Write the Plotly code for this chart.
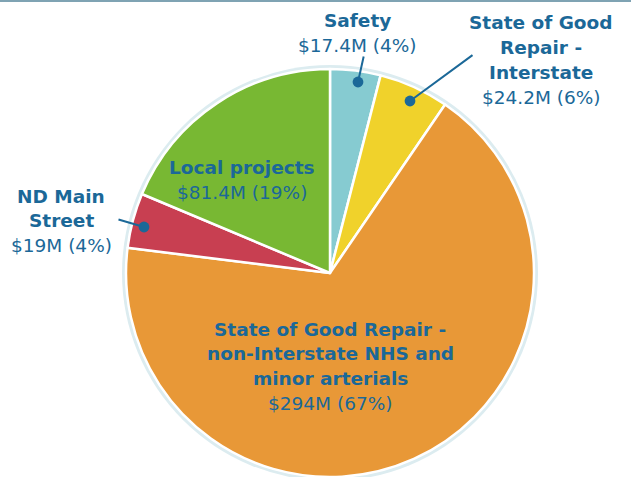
import plotly.graph_objects as go

W, H = 631, 477

categories = ["Safety", "State of Good Repair - Interstate",
              "State of Good Repair - non-Interstate NHS and minor arterials",
              "ND Main Street", "Local projects"]
values = [17.4, 24.2, 294, 19, 81.4]
value_labels = ["$17.4M (4%)", "$24.2M (6%)", "$294M (67%)", "$19M (4%)", "$81.4M (19%)"]
title_lines = [["Safety"], ["State of Good", "Repair -", "Interstate"],
               ["State of Good Repair -", "non-Interstate NHS and", "minor arterials"],
               ["ND Main", "Street"], ["Local projects"]]
colors = ["#86cbd1", "#f0d22b", "#e89837", "#c83f51", "#78b833"]

TXT = "#1b6898"
FONT = "DejaVu Sans"

# pie geometry (pixels)
cx, cy, r = 330, 273, 204

fig = go.Figure(go.Pie(
    labels=categories, values=values, sort=False, direction="clockwise",
    rotation=0, textinfo="none", hoverinfo="label+value+percent",
    marker=dict(colors=colors, line=dict(color="white", width=2.5)),
    domain=dict(x=[(cx - r) / W, (cx + r) / W], y=[(H - cy - r) / H, (H - cy + r) / H]),
    showlegend=False,
))

# label anchor positions (pixel centres of first line) and line pitch
label_pos = [(357, 21), (541, 23), (330, 329), (61, 196), (242, 168)]
pitch = 24.8

annotations = []
for i, (lx, ly) in enumerate(label_pos):
    lines = ["<b>%s</b>" % t for t in title_lines[i]] + [value_labels[i]]
    for k, t in enumerate(lines):
        annotations.append(dict(
            x=lx / W, y=1 - (ly + k * pitch) / H, xref="paper", yref="paper",
            text=t, showarrow=False, xanchor="center", yanchor="middle",
            font=dict(family=FONT, size=18.5, color=TXT)))

# leader lines with dots: (dot x, dot y, dx, dy to tail)
leaders = [(358, 82, 6, -27), (410, 101, 64, -47), (144, 227, -27, -8)]
for dx_, dy_, ax, ay in leaders:
    annotations.append(dict(
        x=dx_ / W, y=1 - dy_ / H, xref="paper", yref="paper", text="",
        showarrow=True, ax=ax, ay=ay, arrowhead=6, arrowsize=1.35, arrowwidth=2,
        arrowcolor=TXT, standoff=0, startstandoff=0))

halo = 4
shapes = [
    dict(type="circle", xref="paper", yref="paper", layer="below",
         x0=(cx - r - halo) / W, x1=(cx + r + halo) / W,
         y0=(H - cy - r - halo) / H, y1=(H - cy + r + halo) / H,
         fillcolor="#dcecf0", line=dict(width=0)),
    dict(type="line", xref="paper", yref="paper", x0=0, x1=1,
         y0=1 - 1 / H, y1=1 - 1 / H, line=dict(color="#7fa3b3", width=2)),
]

fig.update_layout(
    width=W, height=H, margin=dict(l=0, r=0, t=0, b=0),
    paper_bgcolor="white", plot_bgcolor="white",
    annotations=annotations, shapes=shapes,
)

fig.write_html("out.html")
